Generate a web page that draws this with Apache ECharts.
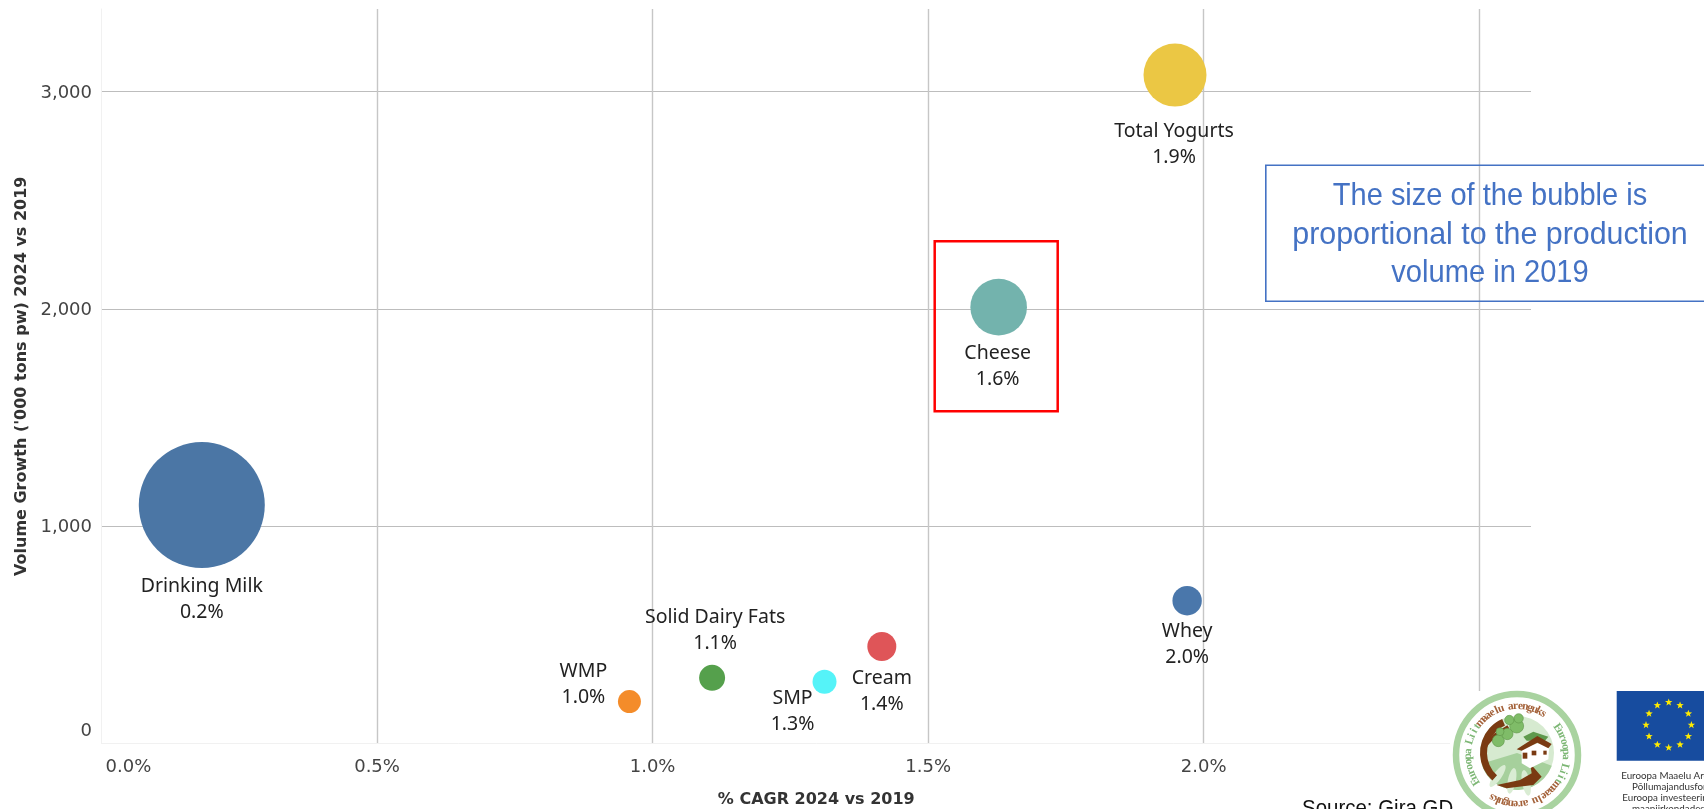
<!DOCTYPE html>
<html>
<head>
<meta charset="utf-8">
<style>html,body{margin:0;padding:0;background:#fff;overflow:hidden}#c{width:1704px;height:809px}</style>
<script src="https://cdn.jsdelivr.net/npm/echarts@6/dist/echarts.min.js"></script>
</head>
<body>
<div id="c"></div>
<script>
const products = ['Drinking Milk','Total Yogurts','Cheese','Whey','Cream','SMP','Solid Dairy Fats','WMP'];
const cagr = [0.182,1.948,1.628,1.970,1.416,1.312,1.108,0.958];
const volumeGrowth = [1097,3076,2008,657,446,284,302,193];
const volume2019 = [3969,992,800,216,210,144,169,132];
const colors = ['#4b76a5','#ebc744','#73b3ad','#4a77ab','#df5558','#55f3f8','#55a04c','#f48c2a'];
const labelOffsets = [[0,94],[-1,69],[-1,59],[0,44],[0,45],[-32,30],[3,-47],[-46,-17]];

const z = (x,y)=>[1300+x/3,620+y/3];
const g = [];
// annotation boxes
g.push({type:'rect',shape:{x:934.7,y:241.3,width:123,height:170},style:{fill:'none',stroke:'#ff0000',lineWidth:2.5},z:10});
g.push({type:'rect',shape:{x:1265.8,y:165.3,width:460,height:136},style:{fill:'none',stroke:'#4472c4',lineWidth:1.6},z:10});
[['The size of the bubble is',0.906],['proportional to the production',0.95],['volume in 2019',0.91]].forEach((t,i)=>{
  g.push({type:'text',x:1490,y:196.5+i*38.5,scaleX:t[1],
    style:{text:t[0],fill:'#4472c4',font:'32px "Liberation Sans"',align:'center',verticalAlign:'middle'},z:11});
});
// logo panel background
g.push({type:'rect',shape:{x:1450,y:691,width:254,height:118},style:{fill:'#fff'},z:12});
g.push({type:'text',x:1302,y:798,scaleX:0.93,style:{text:'Source: Gira GD',fill:'#111',font:'22px "Liberation Sans"',align:'left',verticalAlign:'top'},z:13});
// round logo
const cx=1517,cy=755;
g.push({type:'circle',shape:{cx,cy,r:61},style:{fill:'#fff',stroke:'#a9d3a0',lineWidth:6.5},z:13});
g.push({type:'circle',shape:{cx,cy:753,r:37},style:{fill:'#d6ead0'},z:13});
g.push({type:'sector',shape:{cx,cy:753,r:37,r0:0,startAngle:0.35,endAngle:2.85},style:{fill:'#a6d09c'},z:13});
[[-16,18,-6],[-4,22,-2],[8,24,2]].forEach(a=>{
  g.push({type:'ellipse',shape:{cx:cx+a[0],cy:753+a[1]+6,rx:4,ry:13},rotation:a[2]/10,originX:cx+a[0],originY:753+a[1],style:{fill:'#d9ecd3'},z:13});
});
g.push({type:'sector',shape:{cx,cy:753,r:37,r0:30,startAngle:2.3,endAngle:4.3},style:{fill:'#7a3a12'},z:13});
g.push({type:'polyline',shape:{points:[z(548,385),z(585,345),z(625,320)]},style:{stroke:'#7a3a12',lineWidth:3.5,fill:'none'},z:13});
g.push({type:'polygon',shape:{points:[z(690,430),z(725,470),z(700,495),z(620,505),z(590,495),z(660,480),z(695,460)]},style:{fill:'#7a3a12'},z:13});
[[595,362,18],[622,342,17],[650,318,21],[628,300,14],[656,295,14],[600,335,12]].forEach(c=>{
  const p=z(c[0],c[1]);
  g.push({type:'circle',shape:{cx:p[0],cy:p[1],r:c[2]/3},style:{fill:'#7fbc68',stroke:'#5c9447',lineWidth:0.6},z:14});
});
g.push({type:'polygon',shape:{points:[z(670,350),z(700,335),z(745,350),z(735,362),z(680,362)]},style:{fill:'#5f9a4d'},z:14});
g.push({type:'polygon',shape:{points:[z(665,385),z(715,370),z(748,375),z(745,418),z(690,445),z(665,430)]},style:{fill:'#ffffff'},z:14});
g.push({type:'polygon',shape:{points:[z(650,388),z(712,348),z(755,372),z(745,385),z(712,368),z(665,392)]},style:{fill:'#7a3a12'},z:14});
[[668,398,14,18],[695,392,14,14],[730,392,10,12]].forEach(r=>{
  const p=z(r[0],r[1]);
  g.push({type:'rect',shape:{x:p[0],y:p[1],width:r[2]/3,height:r[3]/3},style:{fill:'#7a3a12'},z:15});
});
// circular logo lettering
const ringGreen='#7db775', ringBrown='#a4623a';
const ringRuns=[['Euroopa Liit',ringGreen,-3.71,0.108],['maaelu arenguks',ringBrown,-2.40,0.100],['Euroopa Liit',ringGreen,-0.59,0.105],['maaelu arenguks',ringBrown,0.68,0.102]];
ringRuns.forEach(run=>{
  [...run[0]].forEach((ch,i)=>{
    const a=run[2]+i*run[3];
    g.push({type:'text',x:cx+49*Math.cos(a),y:cy+49*Math.sin(a),rotation:-(a+Math.PI/2),
      style:{text:ch,fill:run[1],font:'bold 11.5px "Liberation Serif"',align:'center',verticalAlign:'middle'},z:15});
  });
});
// EU flag
g.push({type:'rect',shape:{x:1616.7,y:691,width:88,height:69.7},style:{fill:'#174c9f'},z:13});
const starCount=12;
for(let i=0;i<starCount;i++){
  const a=i*Math.PI*2/starCount-Math.PI/2;
  g.push({type:'polygon',shape:{points:Array.from({length:10},(_,k)=>{
    const b=-Math.PI/2+k*Math.PI/5,r=k%2?1.6:3.9;
    return [1668.7+22.7*Math.cos(a)+r*Math.cos(b),725+22.7*Math.sin(a)+r*Math.sin(b)];
  })},style:{fill:'#ffeb00'},z:14});
}
['Euroopa Maaelu Arengu','Põllumajandusfond','Euroopa investeeringud','maapiirkondadesse'].forEach((t,i)=>{
  g.push({type:'text',x:1673,y:776+i*11,style:{text:t,fill:'#333',font:'9.8px Lato',align:'center',verticalAlign:'middle'},z:14});
});

const tickFont={fontFamily:'DejaVu Sans',fontSize:18,color:'#444'};
const chart = echarts.init(document.getElementById('c'),null,{renderer:'canvas'});
chart.setOption({
  animation:false,
  backgroundColor:'#fff',
  grid:{left:101.5,right:173,top:9,bottom:65.5,containLabel:false,outerBoundsMode:'none'},
  xAxis:{
    type:'value',min:0,max:2.594,interval:0.5,
    name:'% CAGR 2024 vs 2019',nameLocation:'middle',nameGap:48,
    nameTextStyle:{fontFamily:'DejaVu Sans',fontWeight:'bold',fontSize:16,color:'#333'},
    axisLine:{show:true,lineStyle:{color:'#f1f1f1',width:1}},axisTick:{show:false},
    axisLabel:Object.assign({showMaxLabel:false,alignMinLabel:'left',margin:14.5,
      formatter:v=>v===0?'{first|0.0%}':v.toFixed(1)+'%',
      rich:{first:Object.assign({padding:[0,0,0,4]},tickFont)}},tickFont),
    splitLine:{show:true,showMinLine:false,showMaxLine:false,lineStyle:{color:'#c6c6c6',width:1.4}}
  },
  yAxis:{
    type:'value',min:0,max:3380,interval:1000,
    name:"Volume Growth ('000 tons pw) 2024 vs 2019",nameLocation:'middle',nameGap:72,
    nameTextStyle:{fontFamily:'DejaVu Sans',fontWeight:'bold',fontSize:16,color:'#333'},
    axisLine:{show:true,lineStyle:{color:'#f1f1f1',width:1}},axisTick:{show:false},
    axisLabel:Object.assign({showMaxLabel:false,verticalAlignMinLabel:'bottom',margin:9.5,padding:[3,0,0,0],
      formatter:v=>v===0?'{first|0}':v.toLocaleString('en-US'),
      rich:{first:Object.assign({padding:[0,0,3,0]},tickFont)}},tickFont),
    splitLine:{show:true,showMinLine:false,showMaxLine:false,lineStyle:{color:'#bdbdbd',width:1.1}}
  },
  series:[{
    type:'scatter',
    symbol:'circle',
    symbolSize:d=>2*Math.sqrt(d[2]),
    data:products.map((n,i)=>({
      name:n,
      value:[cagr[i],volumeGrowth[i],volume2019[i]],
      itemStyle:{color:colors[i],opacity:1},
      label:{offset:labelOffsets[i]}
    })),
    label:{show:true,position:'inside',align:'center',verticalAlign:'middle',
      fontFamily:'Noto Sans',fontSize:19.5,lineHeight:26,color:'#222',
      formatter:p=>p.name+'\n'+p.value[0].toFixed(1)+'%'},
    emphasis:{disabled:true},
    z:5
  }],
  graphic:{elements:g}
});
</script>
</body>
</html>
